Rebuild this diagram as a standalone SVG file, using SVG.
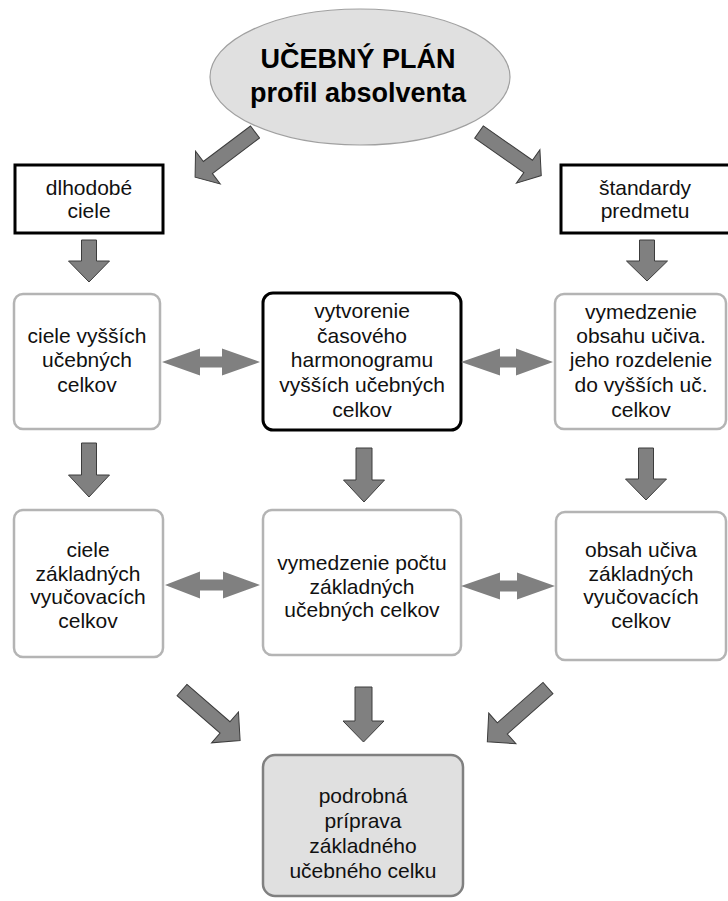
<svg xmlns="http://www.w3.org/2000/svg" width="728" height="901" viewBox="0 0 728 901">
  <style>
    text { font-family: "Liberation Sans", Arial, sans-serif; font-size: 21px; fill: #111; text-anchor: middle; }
    .title { font-weight: bold; font-size: 27px; fill: #000; }
    .box-black { fill: #fff; stroke: #000; stroke-width: 3; }
    .box-gray { fill: #fff; stroke: #b4b4b4; stroke-width: 2.5; }
    .box-fill { fill: #e0e0e0; stroke: #808080; stroke-width: 2.5; }
    .arrow { fill: #808080; stroke: #3c3c3c; stroke-width: 1; stroke-linejoin: miter; }
    .dbl { fill: #808080; stroke: none; }
  </style>
  <rect width="728" height="901" fill="#fff"/>

  <!-- top ellipse -->
  <g id="plan">
    <ellipse cx="360" cy="77" rx="150" ry="68" fill="#e0e0e0" stroke="#a0a0a0" stroke-width="1.2"/>
    <text class="title" x="358" y="68">UČEBNÝ PLÁN</text>
    <text class="title" x="358" y="102">profil absolventa</text>
  </g>

  <g id="dlhodobe">
    <rect class="box-black" x="15" y="165" width="148" height="68"/>
    <text x="89" y="195">dlhodobé</text>
    <text x="89" y="218">ciele</text>
  </g>

  <g id="standardy">
    <rect class="box-black" x="561" y="165" width="170" height="68"/>
    <text x="645" y="195">štandardy</text>
    <text x="645" y="218">predmetu</text>
  </g>

  <g id="ciele-vyssich">
    <rect class="box-gray" x="14" y="294" width="146" height="135" rx="9"/>
    <text x="87" y="343">ciele vyšších</text>
    <text x="87" y="367">učebných</text>
    <text x="87" y="392">celkov</text>
  </g>

  <g id="harmonogram">
    <rect class="box-black" x="263" y="293" width="198" height="137" rx="10"/>
    <text x="362" y="318">vytvorenie</text>
    <text x="362" y="343">časového</text>
    <text x="362" y="367">harmonogramu</text>
    <text x="362" y="392">vyšších učebných</text>
    <text x="362" y="417">celkov</text>
  </g>

  <g id="obsah-vyssich">
    <rect class="box-gray" x="555" y="294" width="171" height="135" rx="9"/>
    <text x="641" y="319">vymedzenie</text>
    <text x="641" y="343">obsahu učiva.</text>
    <text x="641" y="367">jeho rozdelenie</text>
    <text x="641" y="392">do vyšších uč.</text>
    <text x="641" y="417">celkov</text>
  </g>

  <g id="ciele-zakladnych">
    <rect class="box-gray" x="14" y="510" width="149" height="147" rx="9"/>
    <text x="88" y="557">ciele</text>
    <text x="88" y="580.5">základných</text>
    <text x="88" y="604">vyučovacích</text>
    <text x="88" y="627.5">celkov</text>
  </g>

  <g id="pocet">
    <rect class="box-gray" x="263" y="510" width="198" height="145" rx="9"/>
    <text x="362" y="570">vymedzenie počtu</text>
    <text x="362" y="593.5">základných</text>
    <text x="362" y="617">učebných celkov</text>
  </g>

  <g id="obsah-zakladnych">
    <rect class="box-gray" x="556" y="512" width="170" height="148" rx="9"/>
    <text x="641" y="557">obsah učiva</text>
    <text x="641" y="580.5">základných</text>
    <text x="641" y="604">vyučovacích</text>
    <text x="641" y="627.5">celkov</text>
  </g>

  <g id="priprava">
    <rect class="box-fill" x="263" y="755" width="200" height="141" rx="12"/>
    <text x="363" y="803">podrobná</text>
    <text x="363" y="828">príprava</text>
    <text x="363" y="853">základného</text>
    <text x="363" y="878">učebného celku</text>
  </g>

  <!-- block arrows between the nodes -->
  <g id="connectors">
    <!-- diagonals from the ellipse -->
    <path class="arrow" transform="translate(255,132) rotate(143)" d="M0,-7.5 H59 V-20.5 L75,0 L59,20.5 V7.5 H0 Z"/>
    <path class="arrow" transform="translate(479,132) rotate(35)" d="M0,-7.5 H60 V-20.5 L76,0 L60,20.5 V7.5 H0 Z"/>

    <!-- downward arrows -->
    <path class="arrow" d="M81.5,240 V261 H68.5 L89,282 L109.5,261 H96.5 V240 Z"/>
    <path class="arrow" d="M639.5,240 V261 H626.5 L647,281 L667.5,261 H654.5 V240 Z"/>
    <path class="arrow" d="M81.5,443 V475 H68.5 L89,497 L109.5,475 H96.5 V443 Z"/>
    <path class="arrow" d="M356,448 V480 H343.5 L364,502 L384.5,480 H372 V448 Z"/>
    <path class="arrow" d="M638.5,448 V479 H625.5 L646,500 L666.5,479 H653.5 V448 Z"/>
    <path class="arrow" d="M355,687 V721 H343 L363.5,742 L384,721 H372 V687 Z"/>

    <!-- converging diagonals -->
    <path class="arrow" transform="translate(182,690) rotate(41)" d="M0,-7.5 H57 V-20.5 L77,0 L57,20.5 V7.5 H0 Z"/>
    <path class="arrow" transform="translate(548,688) rotate(138.5)" d="M0,-7.5 H61 V-20.5 L81,0 L61,20.5 V7.5 H0 Z"/>

    <!-- two-way arrows -->
    <path class="dbl" d="M162,362 L200,348.5 V356.5 H222 V348.5 L260,362 L222,375.5 V367.5 H200 V375.5 Z"/>
    <path class="dbl" d="M461,362 L500,348.5 V356.5 H516 V348.5 L553,362 L516,375.5 V367.5 H500 V375.5 Z"/>
    <path class="dbl" d="M165,585 L200,571.5 V579.5 H223 V571.5 L260,585 L223,598.5 V590.5 H200 V598.5 Z"/>
    <path class="dbl" d="M461,586 L500,572.5 V580.5 H517 V572.5 L555,586 L517,599.5 V591.5 H500 V599.5 Z"/>
  </g>
</svg>
